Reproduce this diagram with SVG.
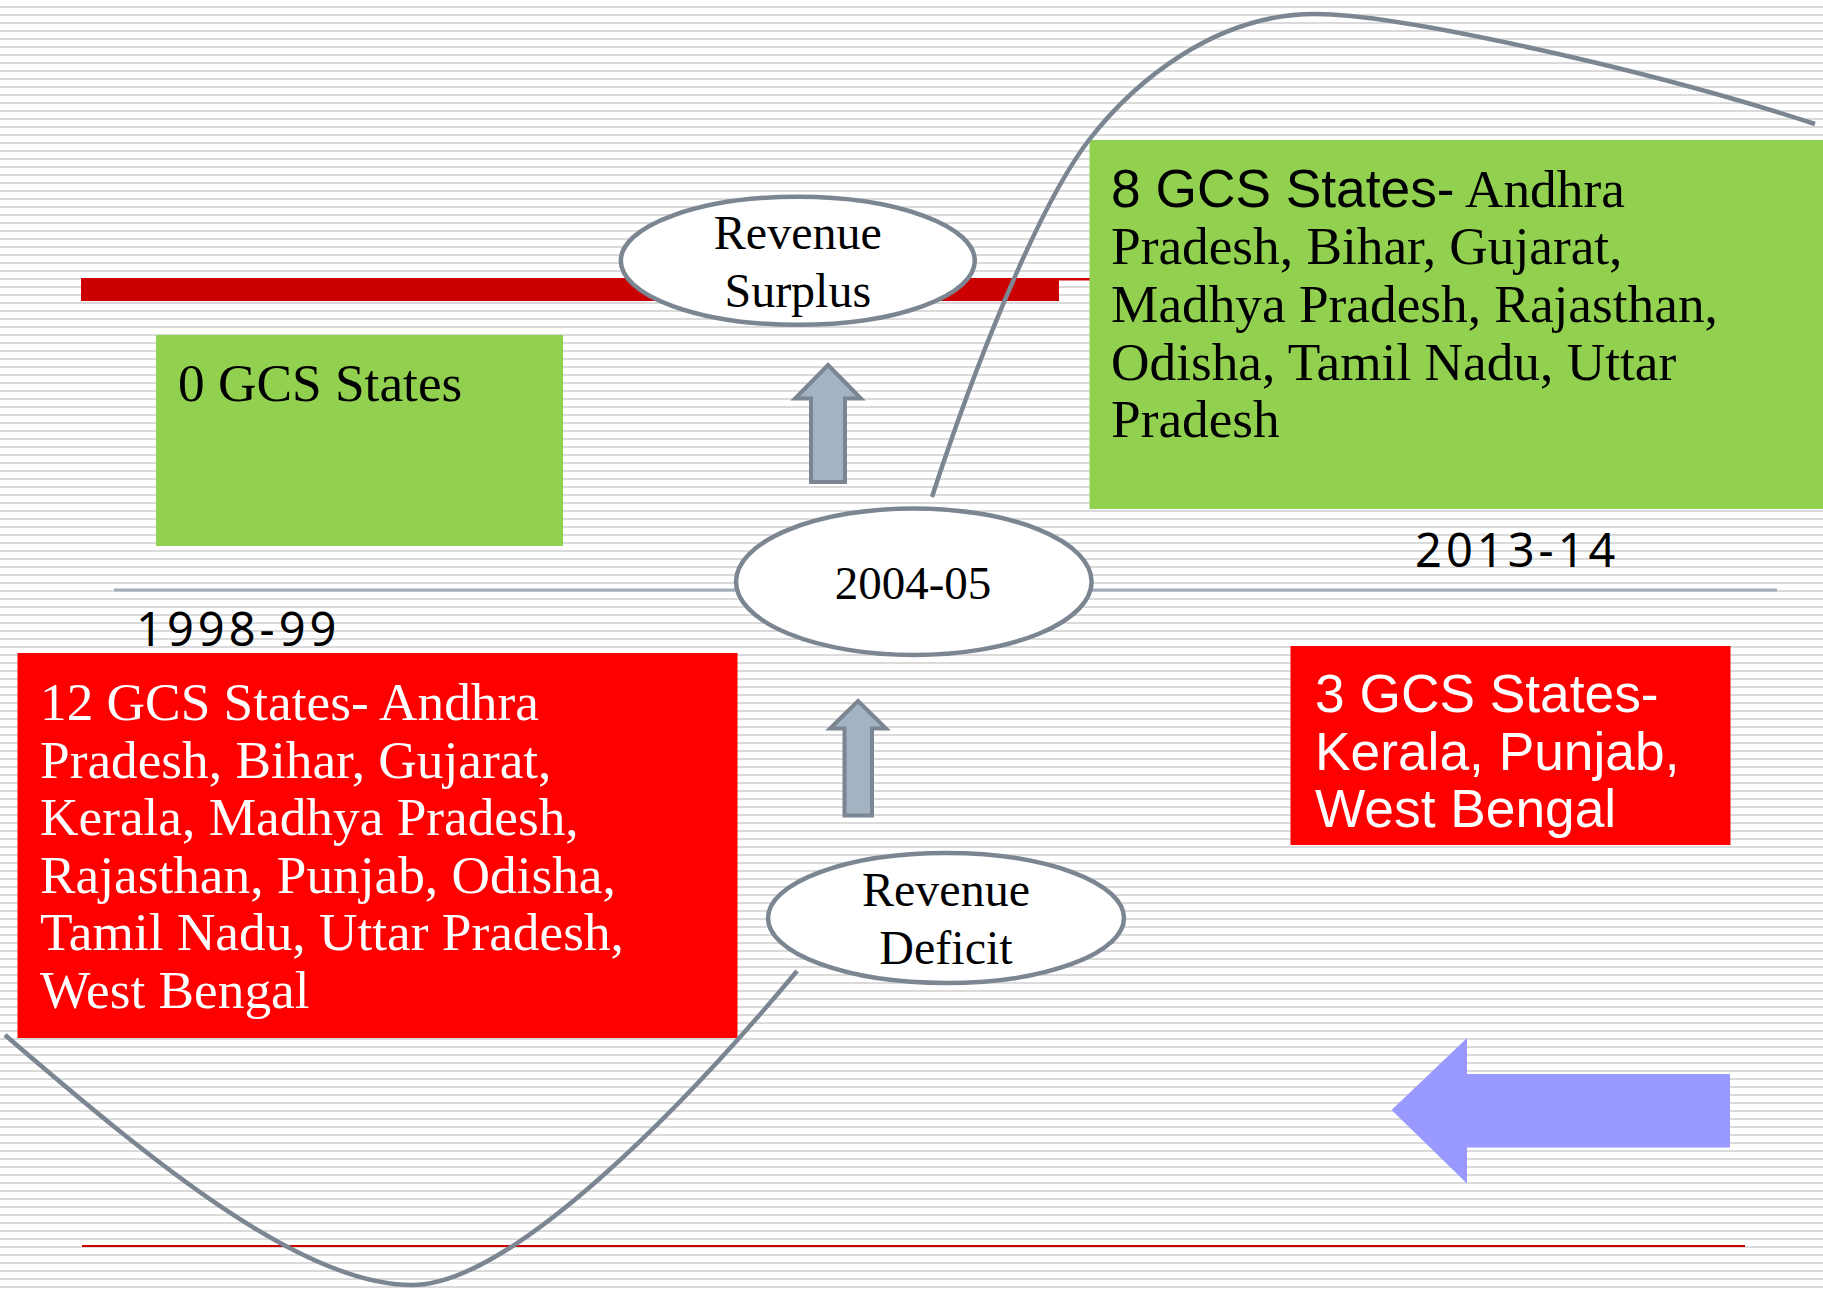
<svg xmlns="http://www.w3.org/2000/svg" width="1823" height="1291" viewBox="0 0 1823 1291">
<defs>
<pattern id="stripes" x="0" y="0" width="1823" height="8" patternUnits="userSpaceOnUse">
<rect x="0" y="6" width="1823" height="2" fill="#dadada"/>
</pattern>
<style>
.serif{font-family:"Liberation Serif","Times New Roman",serif;}
.sans{font-family:"Liberation Sans",Arial,sans-serif;}
.year{font-family:"Noto Sans","Open Sans",sans-serif;font-size:47px;letter-spacing:4px;fill:#000;}
.oval{fill:#fff;stroke:#7b8692;stroke-width:4.5;}
.lbl{font-family:"Liberation Serif","Times New Roman",serif;font-size:48px;fill:#000;text-anchor:middle;}
.big{font-size:53.3px;}
.curve{fill:none;stroke:#7b8692;stroke-width:4.5;}
.uparrow{fill:#a3b3c3;stroke:#7b8692;stroke-width:4;}
</style>
</defs>
<rect width="1823" height="1291" fill="#fff"/>
<rect width="1823" height="1291" fill="url(#stripes)"/>

<g id="surplus-bar">
<rect x="81" y="278" width="978" height="23" fill="#cc0000"/>
<rect x="1059" y="278" width="31" height="2.5" fill="#cc0000"/>
</g>
<g id="bottom-line">
<rect x="82" y="1245" width="1663" height="2" fill="#cc0000"/>
</g>
<g id="axis">
<rect x="114" y="588.5" width="1663" height="3" fill="#a0aebb"/>
</g>

<g id="box-0gcs">
<rect x="156" y="335" width="407" height="211" fill="#92d050"/>
<text class="serif big" x="178" y="401" fill="#000">0 GCS States</text>
</g>

<g id="box-8gcs">
<rect x="1089.5" y="140" width="734" height="369" fill="#92d050"/>
<text class="serif big" fill="#000">
<tspan x="1111" y="206.7"><tspan class="sans">8 GCS States-</tspan> Andhra</tspan>
<tspan x="1111" y="264.3">Pradesh, Bihar, Gujarat,</tspan>
<tspan x="1111" y="321.9">Madhya Pradesh, Rajasthan,</tspan>
<tspan x="1111" y="379.5">Odisha, Tamil Nadu, Uttar</tspan>
<tspan x="1111" y="437.1">Pradesh</tspan>
</text>
</g>

<g id="box-12gcs">
<rect x="17.5" y="653" width="720" height="385" fill="#ff0000"/>
<text class="serif big" fill="#fff">
<tspan x="40" y="720">12 GCS States- Andhra</tspan>
<tspan x="40" y="777.6">Pradesh, Bihar, Gujarat,</tspan>
<tspan x="40" y="835.2">Kerala, Madhya Pradesh,</tspan>
<tspan x="40" y="892.8">Rajasthan, Punjab, Odisha,</tspan>
<tspan x="40" y="950.4">Tamil Nadu, Uttar Pradesh,</tspan>
<tspan x="40" y="1008">West Bengal</tspan>
</text>
</g>

<g id="box-3gcs">
<rect x="1290.5" y="646" width="440" height="199" fill="#ff0000"/>
<text class="sans big" fill="#fff">
<tspan x="1315" y="712">3 GCS States-</tspan>
<tspan x="1315" y="769.6">Kerala, Punjab,</tspan>
<tspan x="1315" y="827.2">West Bengal</tspan>
</text>
</g>

<g id="label-1998">
<text class="year" x="136" y="646">1998-99</text>
</g>
<g id="label-2013">
<text class="year" x="1415" y="567">2013-14</text>
</g>

<g id="connectors">
<path class="curve" d="M932,497 C970,380 1035,210 1089,140 C1134,82 1215,14 1315,14 C1400,14 1650,70 1815,124"/>
<path class="curve" d="M5,1035 C155,1164 302,1285 412,1285 C512,1285 687,1103 797,971"/>
<polygon id="arrow-up-upper" class="uparrow" points="828,365 861,398.5 845,398.5 845,482 811,482 811,398.5 795,398.5"/>
<polygon id="arrow-up-lower" class="uparrow" points="858,701 886,728.5 872,728.5 872,815.5 844.5,815.5 844.5,728.5 830,728.5"/>
<polygon id="arrow-left" fill="#9999ff" points="1391.6,1110 1467,1038 1467,1074 1730,1074 1730,1147.5 1467,1147.5 1467,1183.5"/>
</g>

<g id="node-surplus">
<ellipse class="oval" cx="797.8" cy="260.8" rx="177" ry="64"/>
<text class="lbl"><tspan x="797.8" y="249">Revenue</tspan><tspan x="797.8" y="306.6">Surplus</tspan></text>
</g>

<g id="node-2004">
<ellipse class="oval" cx="913.8" cy="581.7" rx="177.8" ry="73.3"/>
<text class="lbl" x="913" y="599" style="font-size:47px">2004-05</text>
</g>

<g id="node-deficit">
<ellipse class="oval" cx="946" cy="918" rx="178" ry="65"/>
<text class="lbl"><tspan x="946" y="906">Revenue</tspan><tspan x="946" y="963.6">Deficit</tspan></text>
</g>
</svg>
